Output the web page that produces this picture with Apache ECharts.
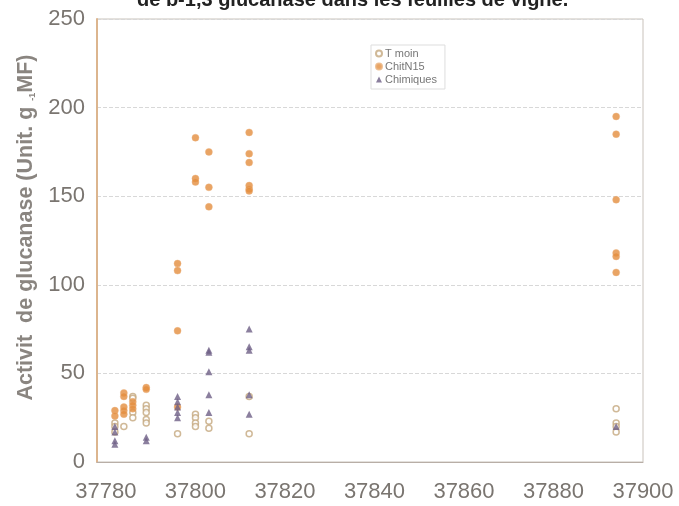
<!DOCTYPE html>
<html>
<head>
<meta charset="utf-8">
<script src="https://cdn.jsdelivr.net/npm/echarts@6/dist/echarts.min.js"></script>
<style>
html, body { margin: 0; padding: 0; background: #fff; }
#chart { width: 679px; height: 506px; }
</style>
</head>
<body>
<div id="chart"></div>
<script>
// valeurs (x = date en jours, y = activite)
var xTicks = [37780, 37800, 37820, 37840, 37860, 37880, 37900];

var tmoinX = [37782, 37782, 37782, 37784, 37786, 37786, 37786, 37786, 37789, 37789, 37789, 37789, 37789,
	37796, 37800, 37800, 37800, 37800, 37803, 37803, 37812, 37812, 37894, 37894, 37894, 37894];
var tmoinY = [22, 20, 17, 20, 37, 36, 28, 25, 32, 30, 28, 24, 22,
	16, 27, 25, 22, 20, 23, 19, 37, 16, 30, 22, 20, 17];

var chitX = [37782, 37782, 37784, 37784, 37784, 37784, 37784, 37786, 37786, 37786, 37789, 37789,
	37796, 37796, 37796, 37796, 37800, 37800, 37800, 37803, 37803, 37803,
	37812, 37812, 37812, 37812, 37812, 37812, 37894, 37894, 37894, 37894, 37894, 37894];
var chitY = [29, 26, 39, 37, 31, 29, 27, 34, 32, 30, 42, 41,
	112, 108, 74, 31, 183, 160, 158, 175, 155, 144,
	186, 174, 169, 156, 154, 153, 195, 185, 148, 118, 116, 107];

var chimX = [37782, 37782, 37782, 37782, 37796, 37796, 37796, 37796, 37796,
	37803, 37803, 37803, 37803, 37803, 37812, 37812, 37812, 37812, 37812, 37789, 37789, 37894];
var chimY = [20, 17, 12, 10, 37, 34, 31, 28, 25,
	63, 62, 51, 38, 28, 75, 65, 63, 38, 27, 14, 12, 20];

function pairs(xs, ys) {
	var out = [];
	for (var i = 0; i < xs.length; i++) {
		out.push([xs[i], ys[i]]);
	}
	return out;
}

var chart = echarts.init(document.getElementById('chart'));

var option = {
	backgroundColor: '#fff',
	animation: false,
	title: {
		text: 'de b-1,3 glucanase dans les feuilles de vigne.',
		left: 132,
		top: -15,
		textStyle: { fontFamily: 'Liberation Sans', fontWeight: 'bold', fontSize: 20, color: '#222' }
	},
	legend: {
		orient: 'vertical',
		left: 371,
		top: 45,
		padding: [3, 8, 4, 4],
		itemGap: 2,
		itemWidth: 6,
		itemHeight: 6,
		borderColor: '#ddd',
		borderWidth: 1,
		textStyle: { fontFamily: 'Liberation Sans', fontSize: 11, color: '#777', padding: [0, 0, 0, -2] },
		data: ['T moin', 'ChitN15', 'Chimiques']
	},
	grid: {
		left: 97,
		right: 36,
		top: 19,
		bottom: 44,
		show: true,
		borderColor: '#c9c2bb',
		borderWidth: 1
	},
	xAxis: {
		type: 'value',
		min: 37778,
		max: 37900,
		axisLine: { show: true, lineStyle: { color: '#b8aea6', width: 1 } },
		axisTick: { show: false },
		splitLine: { show: false },
		axisLabel: {
			customValues: xTicks,
			formatter: function(v) { return String(v); },
			margin: 19,
			fontFamily: 'Liberation Sans',
			fontSize: 22,
			color: '#7a7570'
		}
	},
	yAxis: {
		type: 'value',
		min: 0,
		max: 250,
		interval: 50,
		name: '{a|Activit  de glucanase (Unit. g }{s|-1}{a|MF)}',
		nameLocation: 'middle',
		nameGap: 53,
		nameTextStyle: {
			padding: [0, 0, 0, 26],
			rich: {
				a: { fontFamily: 'Liberation Sans', fontWeight: 'bold', fontSize: 21.5, color: '#8a8580' },
				s: { fontFamily: 'Liberation Sans', fontWeight: 'bold', fontSize: 9, color: '#8a8580', verticalAlign: 'bottom' }
			}
		},
		axisLine: { show: true, lineStyle: { color: '#dcb58e', width: 2 } },
		axisTick: { show: false },
		splitLine: { show: true, lineStyle: { color: '#d8d8d8', type: 'dashed', width: 1 } },
		axisLabel: {
			margin: 12,
			fontFamily: 'Liberation Sans',
			fontSize: 22,
			color: '#7a7570'
		}
	},
	series: [
		{
			name: 'T moin',
			type: 'scatter',
			symbol: 'circle',
			symbolSize: 6,
			itemStyle: { color: '#fff', borderColor: '#c4a77e', borderWidth: 1.5 },
			data: pairs(tmoinX, tmoinY)
		},
		{
			name: 'ChitN15',
			type: 'scatter',
			symbol: 'circle',
			symbolSize: 7,
			itemStyle: { color: '#e38d3d', borderColor: '#eab07a', borderWidth: 0.5 },
			data: pairs(chitX, chitY)
		},
		{
			name: 'Chimiques',
			type: 'scatter',
			symbol: 'triangle',
			symbolSize: 7,
			itemStyle: { color: '#6e5f86' },
			data: pairs(chimX, chimY)
		}
	]
};

chart.setOption(option);
</script>
</body>
</html>
